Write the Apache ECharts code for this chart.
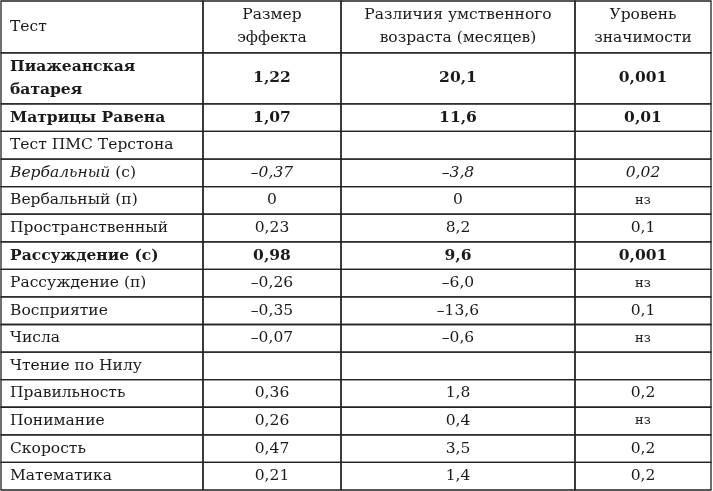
<!DOCTYPE html>
<html lang="ru">
<head>
<meta charset="UTF-8">
<title>Таблица</title>
<script src="https://cdn.jsdelivr.net/npm/echarts@6/dist/echarts.min.js"></script>
<style>html,body{margin:0;padding:0;background:#fff}</style>
</head>
<body>
<div id="main" style="width:713px;height:491px;"></div>
<script>
    // column headers and column borders (in table x-units)
    var headers = ['Тест', 'Размер\nэффекта', 'Различия умственного\nвозраста (месяцев)', 'Уровень\nзначимости'];
    var colEdges = [0, 202, 340, 574, 710];

    var tests = ['Пиажеанская\nбатарея', 'Матрицы Равена', 'Тест ПМС Терстона', 'Вербальный (с)', 'Вербальный (п)',
        'Пространственный', 'Рассуждение (с)', 'Рассуждение (п)', 'Восприятие', 'Числа',
        'Чтение по Нилу', 'Правильность', 'Понимание', 'Скорость', 'Математика'];
    var effect = ['1,22', '1,07', '', '–0,37', '0', '0,23', '0,98', '–0,26', '–0,35', '–0,07', '', '0,36', '0,26', '0,47', '0,21'];
    var ageDiff = ['20,1', '11,6', '', '–3,8', '0', '8,2', '9,6', '–6,0', '–13,6', '–0,6', '', '1,8', '0,4', '3,5', '1,4'];
    var signif = ['0,001', '0,01', '', '0,02', 'нз', '0,1', '0,001', 'нз', '0,1', 'нз', '', '0,2', 'нз', '0,2', '0,2'];
    var boldRows = [0, 1, 6];
    var italicRows = [3];
    var rowSpan = [1.85].concat(new Array(14).fill(1));
    var headerSpan = 1.88;

    var font = '"DejaVu Serif", "Liberation Serif", serif';
    var cells = [];
    var y = 0;
    headers.forEach(function (h, c) { cells.push([c, 0, headerSpan, h, 'h', -1]); });
    y = headerSpan;
    tests.forEach(function (t, r) {
        var vals = [t, effect[r], ageDiff[r], signif[r]];
        vals.forEach(function (v, c) { cells.push([c, y, y + rowSpan[r], v, 'b', r]); });
        y += rowSpan[r];
    });
    var total = y;

    function renderItem(params, api) {
        var c = api.value(0), y0 = api.value(1), y1 = api.value(2);
        var d = cells[params.dataIndex];
        var txt = d[3], r = d[5];
        var p0 = api.coord([colEdges[c], y0]);
        var p1 = api.coord([colEdges[c + 1], y1]);
        var bold = boldRows.indexOf(r) >= 0;
        var ital = italicRows.indexOf(r) >= 0 && c !== 3 || (italicRows.indexOf(r) >= 0 && c === 3);
        var style = {
            fill: '#1a1a1a',
            fontFamily: font,
            fontSize: txt === 'нз' ? 13 : 15.5,
            fontWeight: bold ? 'bold' : 'normal',
            fontStyle: 'normal',
            lineHeight: 23,
            verticalAlign: 'middle',
            align: c === 0 ? 'left' : 'center'
        };
        var text = txt;
        if (ital) {
            if (c === 0) {
                text = '{i|Вербальный} (с)';
                style.rich = { i: { fontStyle: 'italic', fontFamily: font, fontSize: 15.5, fill: '#1a1a1a' } };
            } else {
                style.fontStyle = 'italic';
            }
        }
        style.text = text;
        style.x = c === 0 ? p0[0] + 9 : (p0[0] + p1[0]) / 2;
        style.y = (p0[1] + p1[1]) / 2;
        return {
            type: 'group',
            children: [
                { type: 'rect', shape: { x: p0[0], y: p0[1], width: p1[0] - p0[0], height: p1[1] - p0[1] },
                  style: { fill: 'none', stroke: '#222', lineWidth: 1.3 } },
                { type: 'text', style: style }
            ]
        };
    }

    var myChart = echarts.init(document.getElementById('main'));
    myChart.setOption({
        animation: false,
        grid: { left: 1, right: 2, top: 1, bottom: 1 },
        xAxis: { type: 'value', min: 0, max: 710, show: false },
        yAxis: { type: 'value', min: 0, max: total, inverse: true, show: false },
        series: [{
            type: 'custom',
            renderItem: renderItem,
            data: cells.map(function (d) { return [d[0], d[1], d[2]]; })
        }]
    });
</script>
</body>
</html>
